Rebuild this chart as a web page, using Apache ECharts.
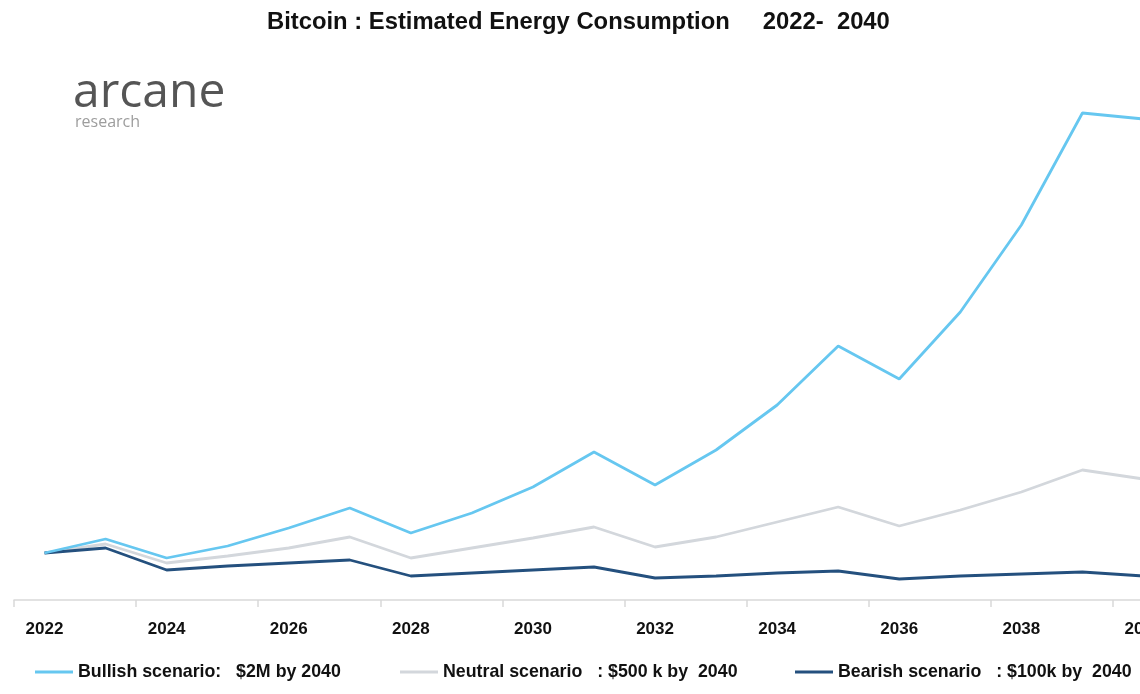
<!DOCTYPE html>
<html>
<head>
<meta charset="utf-8">
<script src="https://cdn.jsdelivr.net/npm/echarts@6/dist/echarts.min.js"></script>
<style>
html,body{margin:0;padding:0;background:#fff;overflow:hidden;width:1140px;height:694px;}
#c{width:1174px;height:694px;}
</style>
</head>
<body>
<div id="c"></div>
<script>
const years = ['2022','2023','2024','2025','2026','2027','2028','2029','2030','2031','2032','2033','2034','2035','2036','2037','2038','2039','2040'];
const bullish = [141,183,126,162,216,276,201,261,339,444,345,450,585,762,663,864,1125,1461,1443];
const neutral = [141,168,111,132,156,189,126,156,186,219,159,189,234,279,222,270,324,390,363];
const bearish = [141,156,90,102,111,120,72,81,90,99,66,72,81,87,63,72,78,84,72];
const seriesNames = ['Bullish scenario:   $2M by 2040','Neutral scenario   : $500 k by  2040','Bearish scenario   : $100k by  2040'];
const titleText = 'Bitcoin : Estimated Energy Consumption     2022-  2040';

const colors = ['#66c7f0','#d3d7dc','#24507e'];
const FONT = 'Liberation Sans, Arial, sans-serif';
const chart = echarts.init(document.getElementById('c'));
const legendBase = {
  bottom: 13, padding: 0, icon: 'rect', itemWidth: 38, itemHeight: 3, itemGap: 5,
  textStyle: {fontFamily: FONT, fontWeight: 'bold', fontSize: 17.8, color: '#111'},
  selectedMode: false
};
chart.setOption({
  animation: false,
  color: colors,
  title: {
    text: titleText, left: 262, top: 5,
    textStyle: {fontFamily: FONT, fontWeight: 'bold', fontSize: 23.8, color: '#111'}
  },
  graphic: [
    {type: 'text', left: 73, top: 69, style: {text: 'arcane', fontFamily: 'Open Sans, Lato, sans-serif', fontWeight: 'normal', fontSize: 48, fill: '#555'}},
    {type: 'text', left: 75, top: 114, style: {text: 'research', fontFamily: 'Open Sans, Lato, sans-serif', fontWeight: 'normal', fontSize: 16, fill: '#9d9d9d'}}
  ],
  legend: [
    Object.assign({}, legendBase, {left: 35, data: [seriesNames[0]]}),
    Object.assign({}, legendBase, {left: 400, data: [seriesNames[1]]}),
    Object.assign({}, legendBase, {left: 795, data: [seriesNames[2]]})
  ],
  grid: {left: 14, right: 0, top: 100, bottom: 94, containLabel: false},
  xAxis: {
    type: 'category', data: years, boundaryGap: true,
    axisLine: {show: true, lineStyle: {color: '#d9d9d9', width: 1.5}},
    axisTick: {show: true, interval: 1, length: 7, lineStyle: {color: '#d9d9d9', width: 1.5}},
    axisLabel: {interval: 1, margin: 21, fontFamily: FONT, fontWeight: 'bold', fontSize: 17, color: '#111'}
  },
  yAxis: {type: 'value', min: 0, max: 1500, show: false, splitLine: {show: false}},
  series: [
    {name: seriesNames[2], type: 'line', data: bearish, showSymbol: false, symbol: 'none', itemStyle: {color: colors[2]}, lineStyle: {width: 2.8, color: colors[2]}, z: 3},
    {name: seriesNames[1], type: 'line', data: neutral, showSymbol: false, symbol: 'none', itemStyle: {color: colors[1]}, lineStyle: {width: 2.8, color: colors[1]}, z: 2},
    {name: seriesNames[0], type: 'line', data: bullish, showSymbol: false, symbol: 'none', itemStyle: {color: colors[0]}, lineStyle: {width: 2.8, color: colors[0]}, z: 4}
  ]
});
</script>
</body>
</html>
